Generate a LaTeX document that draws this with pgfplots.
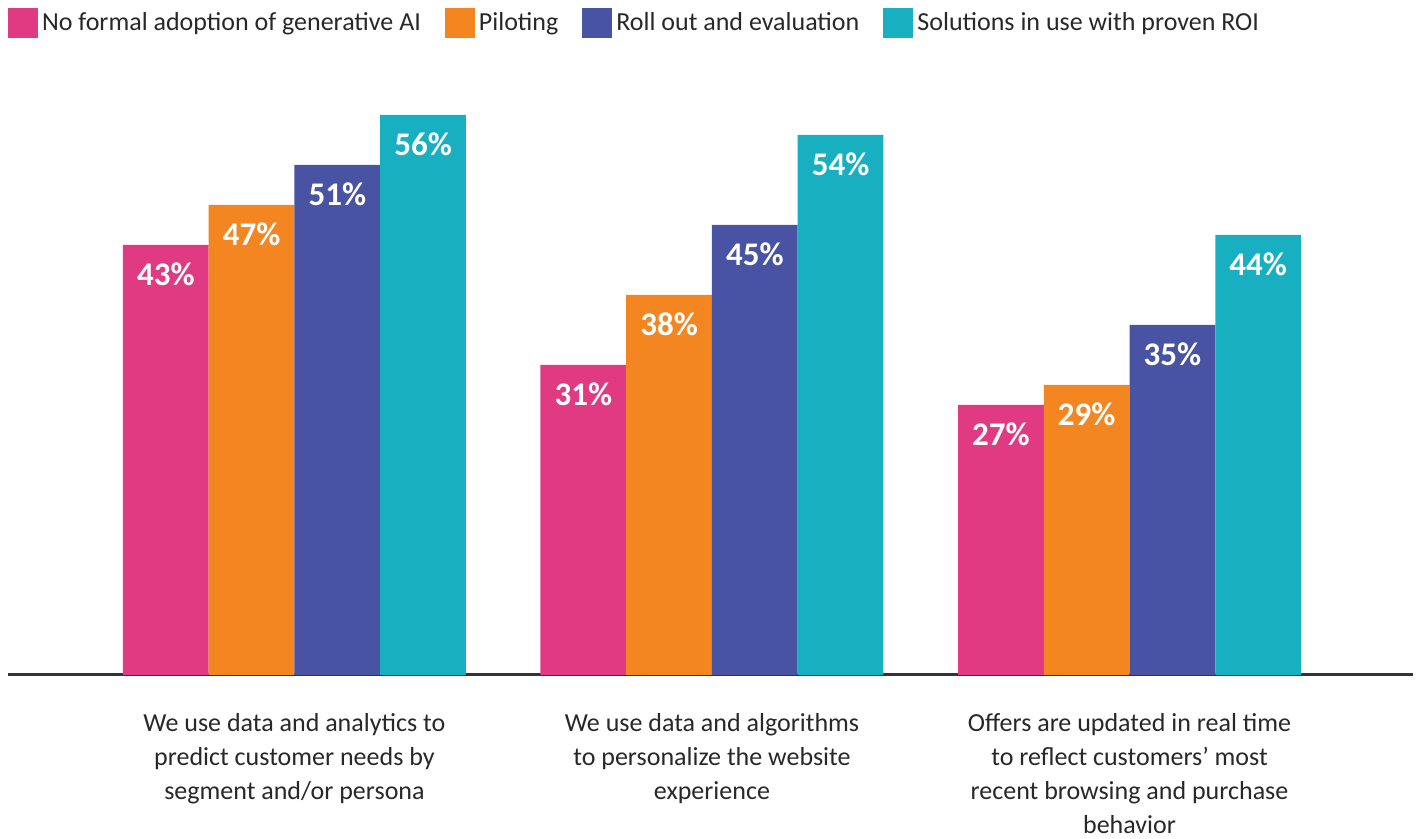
\documentclass[border=0pt]{standalone}
\usepackage{pgfplots}
\pgfplotsset{compat=1.18}
\usepackage{fontspec}
\setmainfont{Carlito}
\definecolor{cpink}{RGB}{224,58,130}
\definecolor{corange}{RGB}{244,134,33}
\definecolor{cblue}{RGB}{72,84,163}
\definecolor{cteal}{RGB}{24,176,193}
\definecolor{axisgray}{RGB}{51,51,51}
\definecolor{textgray}{RGB}{40,40,40}
\begin{document}
\begin{tikzpicture}
\path[use as bounding box] (-4pt,-82pt) rectangle (705pt,337.5pt);
\begin{axis}[
  at={(0pt,0pt)}, anchor=south west,
  width=702.5pt, height=300pt, scale only axis,
  ybar=0pt, bar width=42.875pt,
  xmin=-0.686, xmax=2.679, ymin=0, ymax=60,
  axis y line=none, ytick=\empty,
  axis x line*=bottom,
  x axis line style={-, line width=1.5pt, color=axisgray},
  xtick={0,1,2},
  xticklabels={{We use data and analytics to\\predict customer needs by\\segment and/or persona},
               {We use data and algorithms\\to personalize the website\\experience},
               {Offers are updated in real time\\to reflect customers’ most\\recent browsing and purchase\\behavior}},
  major tick length=0pt,
  xticklabel style={align=center, font=\fontsize{13}{17}\selectfont, text=textgray, inner sep=0pt, yshift=-19pt},
  /pgf/number format/assume math mode=true,
  nodes near coords={\pgfmathprintnumber{\pgfplotspointmeta}\%},
  nodes near coords style={anchor=north, yshift=-8.5pt, inner sep=0pt, font=\fontsize{16.5}{18}\selectfont\bfseries, text=white},
  legend columns=4,
  legend cell align=left,
  legend style={at={(axis description cs:0,1)}, anchor=north west, yshift=33.5pt, draw=none, fill=none,
    inner sep=0pt, outer sep=0pt, font=\fontsize{13}{14}\selectfont, text=textgray,
    /tikz/every even column/.append style={column sep=10pt}},
  legend image code/.code={\fill[#1] (0pt,-7.5pt) rectangle (15pt,7.5pt);},
]
\addplot[fill=cpink, draw=none] coordinates {(0,43) (1,31) (2,27)};
\addplot[fill=corange, draw=none] coordinates {(0,47) (1,38) (2,29)};
\addplot[fill=cblue, draw=none] coordinates {(0,51) (1,45) (2,35)};
\addplot[fill=cteal, draw=none] coordinates {(0,56) (1,54) (2,44)};
\legend{No formal adoption of generative AI, Piloting, Roll out and evaluation, Solutions in use with proven ROI}
\end{axis}
\end{tikzpicture}
\end{document}
